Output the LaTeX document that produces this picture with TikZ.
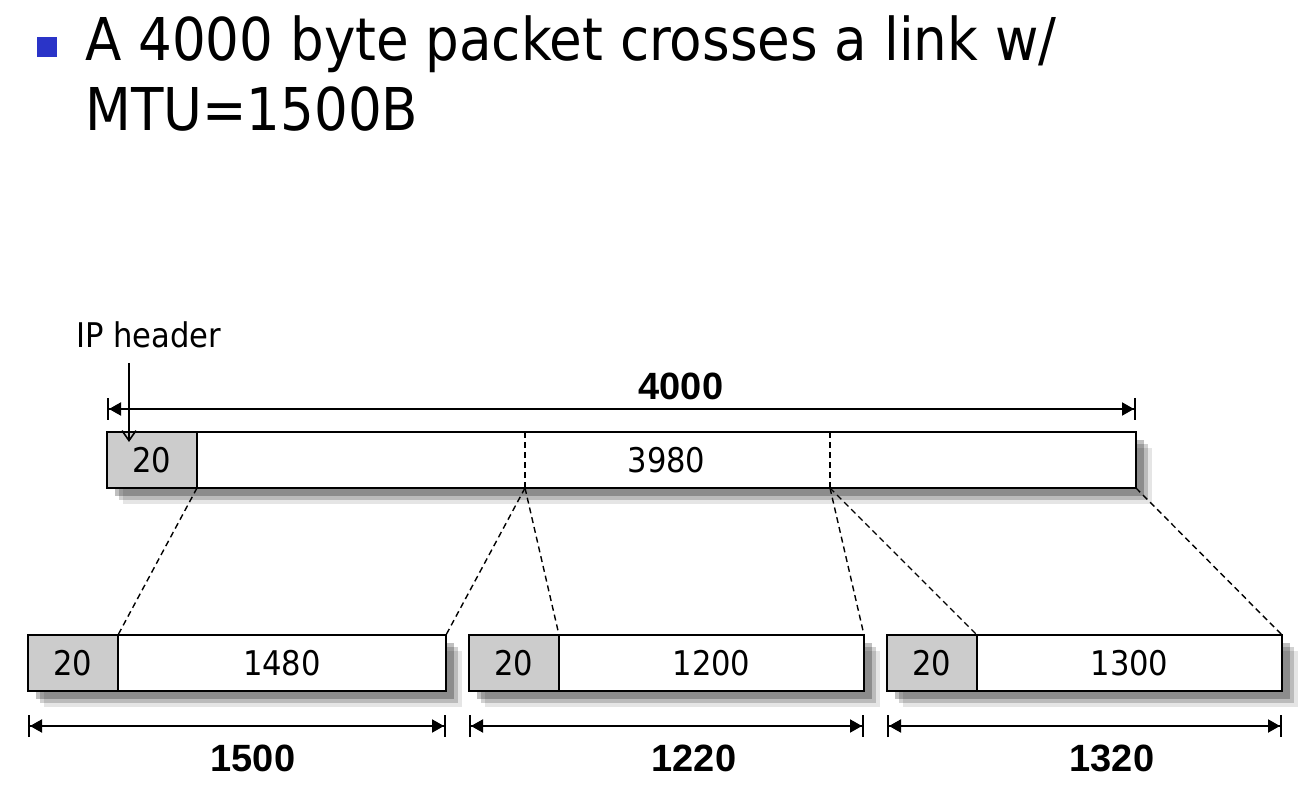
\documentclass[tikz,border=0pt]{standalone}
\usepackage{fontspec}
\setmainfont{DejaVu Sans Condensed}
\newfontfamily\dimfont{Liberation Sans}
\usetikzlibrary{positioning,arrows.meta,shadows}
\definecolor{hdrgray}{RGB}{204,204,204}
\definecolor{bulletblue}{RGB}{42,52,200}

\begin{document}
\begin{tikzpicture}[x=0.5pt,y=-0.5pt,
  cell/.style={draw,line width=1pt,minimum height=28pt,inner sep=0pt,outer sep=0pt,font=\fontsize{17}{20}\selectfont,
    drop shadow={shadow xshift=8pt,shadow yshift=-8pt,opacity=0.1,fill=black},
    drop shadow={shadow xshift=6pt,shadow yshift=-6pt,opacity=0.18,fill=black},
    drop shadow={shadow xshift=4pt,shadow yshift=-4pt,opacity=0.25,fill=black}},
  hdr/.style={cell,fill=hdrgray,minimum width=45pt},
  data/.style={cell,fill=white},
  dimline/.style={line width=1pt,{Bar[width=11pt]Triangle[length=6pt,width=6.5pt]}-{Triangle[length=6pt,width=6.5pt]Bar[width=11pt]}},
  dimlbl/.style={font=\dimfont\bfseries\fontsize{19}{22}\selectfont,inner sep=0pt},
  split/.style={line width=0.7pt,dash pattern=on 3pt off 2pt},
  title/.style={anchor=base west,inner sep=0pt,font=\fontsize{29.5}{36}\selectfont}]
\useasboundingbox[fill=white] (0,0) rectangle (1313,786);

\node[fill=bulletblue,minimum size=10pt,inner sep=0pt] (bul) at (47,47) {};
\node[title] (t1) at (85,61) {A 4000 byte packet crosses a link w/};
\node[title] (t2) at (85,131) {MTU=1500B};

\node[hdr] (h0) at (152,460) {20};
\node[data,minimum width=469.5pt,right=0pt of h0] (d0) {3980};
\coordinate (s1) at (525,488);
\coordinate (s2) at (830,488);
\draw[split] (s1) -- (s1 |- d0.north);
\draw[split] (s2) -- (s2 |- d0.north);

\node[anchor=base west,inner sep=0pt,font=\fontsize{17}{20}\selectfont] (iph) at (76,348) {IP header};
\coordinate (iparr) at (129,442);
\draw[line width=0.8pt,shorten <=7pt,-{Straight Barb[length=5pt,width=7pt]}] (iph.south -| iparr) -- (iparr);

\draw[dimline] ([yshift=11.5pt]h0.north west) -- ([yshift=11.5pt]d0.north east);
\node[dimlbl] (n0) at (681,386) {4000};

\node[hdr] (h1) at (73,663) {20};
\node[data,minimum width=164pt,right=0pt of h1] (d1) {1480};
\node[hdr] (h2) at (514,663) {20};
\node[data,minimum width=152.5pt,right=0pt of h2] (d2) {1200};
\node[hdr] (h3) at (932,663) {20};
\node[data,minimum width=152.5pt,right=0pt of h3] (d3) {1300};

\draw[split] (h0.south east) -- (h1.north east);
\draw[split] (s1) -- (d1.north east);
\draw[split] (s1) -- (h2.north east);
\draw[split] (s2) -- (d2.north east);
\draw[split] (s2) -- (h3.north east);
\draw[split] (d0.south east) -- (d3.north east);

\draw[dimline] ([yshift=-17.5pt]h1.south west) -- ([yshift=-17.5pt]d1.south east);
\draw[dimline] ([yshift=-17.5pt]h2.south west) -- ([yshift=-17.5pt]d2.south east);
\draw[dimline] ([yshift=-17.5pt]h3.south west) -- ([yshift=-17.5pt]d3.south east);
\node[dimlbl] (n1) at (253,758) {1500};
\node[dimlbl] (n2) at (694,758) {1220};
\node[dimlbl] (n3) at (1112,758) {1320};
\end{tikzpicture}
\end{document}
